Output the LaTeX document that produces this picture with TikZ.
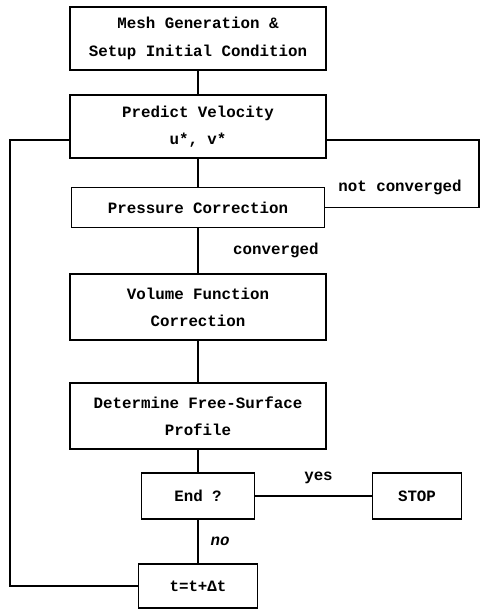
\documentclass[tikz,border=0pt]{standalone}
\usepackage{fontspec}
\setmainfont{Liberation Mono}
\usetikzlibrary{positioning,calc}
\tikzset{
  flowbox/.style={draw,line width=1pt,align=center,font=\bfseries\fontsize{9}{15.5}\selectfont,inner sep=2pt},
  flowline/.style={line width=1pt},
  flowlabel/.style={font=\bfseries\fontsize{9}{11}\selectfont,inner sep=1pt},
}
\begin{document}
\begin{tikzpicture}[x=0.02cm,y=-0.02cm]
\useasboundingbox (0,0) rectangle (481,610);
% main column
\node[flowbox,minimum width=5.12cm,minimum height=1.26cm] (mesh) at (198,38.5) {Mesh Generation \&\\Setup Initial Condition};
\node[flowbox,minimum width=5.12cm,minimum height=1.26cm] (predict) at (198,126.5) {Predict Velocity\\u*, v*};
\draw[flowline] (mesh) -- (predict);
\node[flowbox,minimum width=5.06cm,minimum height=0.8cm] (pressure) at (198,207.5) {Pressure Correction};
\draw[flowline] (predict) -- (pressure);
\node[flowbox,minimum width=5.12cm,minimum height=1.32cm] (volume) at (198,307) {Volume Function\\Correction};
\draw[flowline] (pressure) -- node[flowlabel,right=6.5mm] {converged} (volume);
\node[flowbox,minimum width=5.12cm,minimum height=1.32cm] (surface) at (198,416) {Determine Free-Surface\\Profile};
\draw[flowline] (volume) -- (surface);
\node[flowbox,minimum width=2.26cm,minimum height=0.92cm] (endq) at (198,496) {End ?};
\draw[flowline] (surface) -- (endq);
\node[flowbox,minimum width=1.78cm,minimum height=0.92cm] (stop) at (417,496) {STOP};
\draw[flowline] (endq) -- node[flowlabel,above=2mm,xshift=1mm] {yes} (stop);
\node[flowbox,minimum width=2.38cm,minimum height=0.88cm] (tstep) at (198,586) {t=t+Δt};
\draw[flowline] (endq) -- node[flowlabel,right=2mm,font=\bfseries\itshape\fontsize{9}{11}\selectfont] {no} (tstep);
% loops back to the predictor
\coordinate (lloop) at (10,140);
\draw[flowline] (tstep.west) -| (lloop) -- (lloop -| predict.west);
\coordinate (rloop) at (479,140);
\draw[flowline] (predict.east |- rloop) -- (rloop) |- (pressure.east);
\node[flowlabel] at (400,187) {not converged};
\end{tikzpicture}
\end{document}
